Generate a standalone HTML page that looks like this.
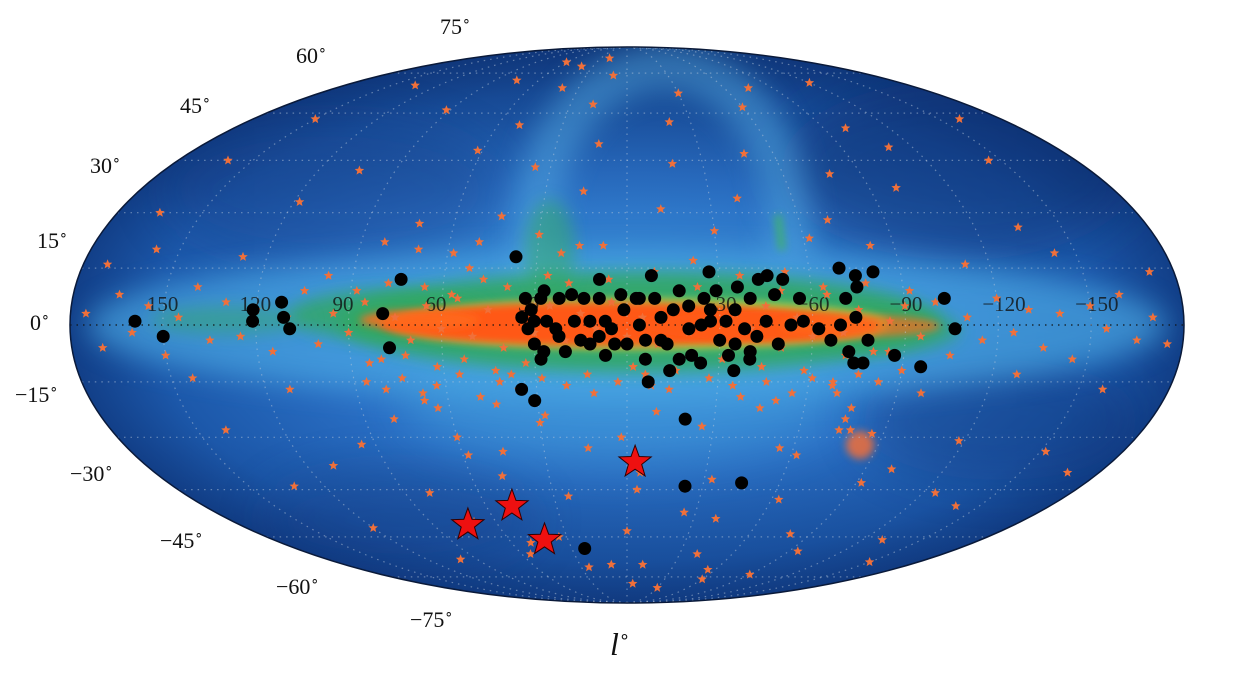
<!DOCTYPE html>
<html><head><meta charset="utf-8">
<style>
html,body{margin:0;padding:0;background:#fff;}
svg{display:block;}
text{font-family:"Liberation Serif",serif;fill:#111;}
</style></head>
<body>
<svg id="chart" width="1238" height="682" viewBox="0 0 1238 682">
<defs>
<radialGradient id="bgGrad" cx="0.5" cy="0.5" r="0.5">
<stop offset="0" stop-color="#3a90d6"/>
<stop offset="0.55" stop-color="#2a6fc4"/>
<stop offset="0.85" stop-color="#1c58aa"/>
<stop offset="1" stop-color="#123f88"/>
</radialGradient>
<linearGradient id="vGrad" x1="0" y1="0" x2="0" y2="1">
<stop offset="0" stop-color="#0c2c6a" stop-opacity="0.5"/>
<stop offset="0.3" stop-color="#0c2c6a" stop-opacity="0"/>
<stop offset="0.7" stop-color="#0c2c6a" stop-opacity="0"/>
<stop offset="1" stop-color="#0c2c6a" stop-opacity="0.3"/>
</linearGradient>
<filter id="blur8" filterUnits="userSpaceOnUse" x="0" y="0" width="1238" height="682"><feGaussianBlur stdDeviation="8"/></filter>
<filter id="blur4" filterUnits="userSpaceOnUse" x="0" y="0" width="1238" height="682"><feGaussianBlur stdDeviation="4"/></filter>
<filter id="blur14" filterUnits="userSpaceOnUse" x="0" y="0" width="1238" height="682"><feGaussianBlur stdDeviation="14"/></filter>
<filter id="blur24" filterUnits="userSpaceOnUse" x="0" y="0" width="1238" height="682"><feGaussianBlur stdDeviation="24"/></filter>
<clipPath id="clipE"><ellipse cx="627" cy="325" rx="557" ry="278"/></clipPath>
</defs>
<g clip-path="url(#clipE)">
<ellipse cx="627" cy="325" rx="557" ry="278" fill="url(#bgGrad)"/>
<rect x="60" y="40" width="1140" height="570" fill="url(#vGrad)"/>
<ellipse cx="960" cy="170" rx="180" ry="90" fill="#0d2d70" opacity="0.5" filter="url(#blur24)"/>
<ellipse cx="1000" cy="420" rx="140" ry="60" fill="#0d2d70" opacity="0.35" filter="url(#blur24)"/>
<ellipse cx="330" cy="190" rx="170" ry="70" fill="#123a82" opacity="0.35" filter="url(#blur24)"/>
<ellipse cx="400" cy="520" rx="140" ry="50" fill="#123a82" opacity="0.3" filter="url(#blur24)"/>
<ellipse cx="627" cy="325" rx="540" ry="75" fill="#4fb0e8" opacity="0.6" filter="url(#blur14)"/>
<ellipse cx="620" cy="400" rx="220" ry="60" fill="#4aa8e4" opacity="0.45" filter="url(#blur24)"/>
<path d="M545,300 C515,200 555,85 650,68 C735,58 795,140 790,260" fill="none" stroke="#5ab4e8" stroke-width="45" opacity="0.45" filter="url(#blur14)"/>
<ellipse cx="640" cy="322" rx="300" ry="50" fill="#30a862" opacity="0.9" filter="url(#blur8)"/>
<ellipse cx="390" cy="315" rx="100" ry="25" fill="#30a862" opacity="0.8" filter="url(#blur8)"/>
<ellipse cx="880" cy="330" rx="80" ry="22" fill="#30a862" opacity="0.7" filter="url(#blur8)"/>
<ellipse cx="230" cy="320" rx="80" ry="14" fill="#35a86a" opacity="0.5" filter="url(#blur8)"/>
<ellipse cx="550" cy="250" rx="25" ry="50" fill="#30a862" opacity="0.5" filter="url(#blur8)"/>
<ellipse cx="640" cy="324" rx="250" ry="26" fill="#b8d84a" opacity="0.8" filter="url(#blur4)"/>
<ellipse cx="600" cy="324" rx="220" ry="22" fill="#ff5812" filter="url(#blur4)"/>
<ellipse cx="760" cy="326" rx="120" ry="17" fill="#ff5a14" filter="url(#blur4)"/>
<ellipse cx="420" cy="320" rx="60" ry="10" fill="#ff6a1a" opacity="0.85" filter="url(#blur4)"/>
<ellipse cx="860" cy="326" rx="80" ry="11" fill="#ff6a1a" opacity="0.7" filter="url(#blur4)"/>
<path d="M778,215 L782,250" stroke="#3cb070" stroke-width="7" opacity="0.9" filter="url(#blur4)"/>
<ellipse cx="860" cy="445" rx="14" ry="14" fill="#ff7030" opacity="0.8" filter="url(#blur4)"/>
</g>
<g id="grid"></g>
<ellipse cx="627" cy="325" rx="557" ry="278" fill="none" stroke="#0a1a3a" stroke-width="1.5"/>
<g id="lonlabels"></g>
<g id="stars"></g>
<g id="dots"></g>
<g id="red"></g>
<g font-size="22">
<text x="440" y="34">75<tspan font-size="14" dy="-9">∘</tspan></text>
<text x="296" y="63">60<tspan font-size="14" dy="-9">∘</tspan></text>
<text x="180" y="113">45<tspan font-size="14" dy="-9">∘</tspan></text>
<text x="90" y="173">30<tspan font-size="14" dy="-9">∘</tspan></text>
<text x="37" y="248">15<tspan font-size="14" dy="-9">∘</tspan></text>
<text x="30" y="330">0<tspan font-size="14" dy="-9">∘</tspan></text>
<text x="15" y="402">−15<tspan font-size="14" dy="-9">∘</tspan></text>
<text x="70" y="481">−30<tspan font-size="14" dy="-9">∘</tspan></text>
<text x="160" y="548">−45<tspan font-size="14" dy="-9">∘</tspan></text>
<text x="276" y="594">−60<tspan font-size="14" dy="-9">∘</tspan></text>
<text x="410" y="627">−75<tspan font-size="14" dy="-9">∘</tspan></text>
</g>
<text x="610" y="655" font-size="32" font-style="italic">l<tspan font-size="18" dy="-13" font-style="normal">∘</tspan></text>
</svg>
<script>
const lonTicks=[150,120,90,60,30,-30,-60,-90,-120,-150];
const dotL=[159,150,121,121,112,111,109,74,79,77,37,35,31,-7,-20,-23,-45,23,-103,-106,-96,-87,-81,-75,-70,-75,-71,-74,-69,-62,-66,-72,-74,-77,-78,
33,31,34,30,28,27,32,30,28,27,23,22,18,17,15,12,9,9,7,5,2,1,0,-3,-4,-6,-8,-9,-11,-13,-15,-17,-20,-21,-24,-25,-27,-27,-29,-30,-33,-35,-36,-38,-40,-40,-43,-45,-46,-48,-49,-51,-53,-56,-57,-35,-40,-14,7,20,12,26,22,9,-20,-24,-32,-42,-4,4,14,-11,-35,-17,-27,-6];
const dotB=[1,-3,4,1,6,2,-1,12,3,-6,18,-17,-20,-15,-25,-44,-43,-64,7,-1,-11,-8,14,13,15,10,7,2,0,-1,-4,-7,-10,-10,-4,
7,4,2,1,7,9,-1,-5,-9,-7,-1,7,8,1,-4,-5,12,7,1,-1,8,4,-5,7,0,-4,13,7,2,-5,4,9,-1,-8,-10,7,14,1,9,-4,-8,4,10,-1,7,-7,12,1,13,8,-5,12,0,7,1,-12,-9,-12,-8,-7,1,1,-3,-3,5,0,1,-3,7,-5,7,-4,-5,-9,4,-9];
const starL=[175,170,165,160,155,150,145,140,135,130,125,120,115,110,105,100,95,90,85,80,75,70,65,60,55,50,45,40,35,30,25,20,15,10,5,0,-5,-10,-15,-20,-25,-30,-35,-40,-45,-50,-55,-60,-65,-70,-75,-80,-85,-90,-95,-100,-105,-110,-115,-120,-125,-130,-135,-140,-145,-150,-155,-160,-165,-170,-175,
172,158,143,128,112,98,82,68,52,38,22,8,-8,-22,-38,-52,-68,-82,-98,-112,-128,-143,-158,-172,
165,140,118,95,72,58,44,30,16,2,-12,-26,-40,-55,-70,-86,-100,-118,-135,-152,
160,132,104,80,62,48,36,24,12,-4,-18,-33,-48,-63,-78,-92,-110,-125,-145,-168,
150,120,92,70,50,34,18,0,-20,-40,-60,-80,-100,-130,-160,
135,100,75,55,40,25,10,-10,-30,-55,-75,-95,-120,-150,
110,80,60,45,28,14,-5,-25,-45,-62,-78,-100,-140,
60,40,20,-5,-30,-60,-90,50,10,-40,-75,-74,-76,
88,84,78,72,66,62,57,53,47,43,39,33,26,19,13,6,-2,-9,-16,-23,-31,-37,-44,-50,-58,-64,-71,-78,-85,-92,
86,80,74,68,63,55,49,42,36,28,20,11,3,-6,-14,-27,-35,-46,-55,-61,-68,-76,-83,-90,
70,64,58,50,44,30,16,-10,-30,-50,-62,-70];
const starB=[3,-6,8,-2,5,-8,2,10,-4,6,-3,4,-7,2,9,-5,3,-2,6,-9,2,-4,5,-1,7,-3,4,-6,2,-2,5,-4,3,-1,6,-3,2,-5,4,-2,7,-4,3,-1,5,-6,2,-3,8,-2,4,-7,1,5,-3,6,-8,2,-4,7,-2,4,-6,3,-9,5,-1,8,-4,2,-5,
16,20,-14,18,-17,13,22,-20,15,-13,19,21,-16,17,-19,14,-15,21,-18,16,-13,19,-17,14,
30,-28,33,-32,27,-35,29,-26,36,-30,31,-27,34,-33,28,-29,37,-31,26,-34,
45,-44,42,-46,48,-41,43,-47,50,-45,44,-42,47,-48,41,-43,49,-46,45,-40,
58,-57,61,-55,56,-60,63,-58,57,-54,62,-59,55,-61,58,
70,-68,72,-66,69,-71,74,-70,67,-72,69,-65,71,-69,
-38,-25,-30,-34,-24,-33,-40,-52,-22,-35,-28,-39,-50,
80,78,82,-78,-80,-76,-74,-62,-70,-66,-25,-28,-22,
9,-10,11,-8,10,-11,8,-9,12,-12,10,-10,13,11,-13,12,-11,14,-12,10,-9,13,-11,9,-12,10,-8,11,-7,9,
-15,-17,-14,-18,-16,-13,-19,-15,-17,-14,-16,-18,-15,-13,-17,-14,-16,-15,-18,-14,-16,-13,-15,-12,
20,-22,19,22,-21,24,21,-23,25,-20,23,-18];
const redL=[-3,49,74,42];
const redB=[-37,-50,-56,-61];

const CX=627,CY=325,A=557,B=278;
function proj(l,b){
  const phi=b*Math.PI/180;
  let t=phi;
  if(Math.abs(Math.abs(phi)-Math.PI/2)>1e-6){for(let i=0;i<30;i++){const f=2*t+Math.sin(2*t)-Math.PI*Math.sin(phi);const d=2+2*Math.cos(2*t);t-=f/d;}}
  return [CX-A*(l/180)*Math.cos(t), CY-B*Math.sin(t)];
}
function starPath(x,y,R,r){
  let s="";
  for(let i=0;i<10;i++){const a=-Math.PI/2+i*Math.PI/5;const rr=i%2?r:R;s+=(i?"L":"M")+(x+rr*Math.cos(a)).toFixed(1)+","+(y+rr*Math.sin(a)).toFixed(1);}
  return s+"Z";
}
const NS="http://www.w3.org/2000/svg";
const grid=document.getElementById('grid');
for(let b=-75;b<=75;b+=15){
  let d="";for(let l=180;l>=-180;l-=3){const p=proj(l,b);d+=(l===180?"M":"L")+p[0].toFixed(1)+","+p[1].toFixed(1);}
  const el=document.createElementNS(NS,'path');el.setAttribute('d',d);
  el.setAttribute('fill','none');el.setAttribute('stroke',b===0?'#111':'#b8c8dc');el.setAttribute('stroke-width',b===0?'1.4':'1.2');el.setAttribute('stroke-dasharray','1.5 5');el.setAttribute('opacity',b===0?'0.8':'0.5');
  
  
  grid.appendChild(el);
}
for(let l=-150;l<=150;l+=30){
  let d="";for(let b=-90;b<=90;b+=2){const p=proj(l,b);d+=(b===-90?"M":"L")+p[0].toFixed(1)+","+p[1].toFixed(1);}
  const el=document.createElementNS(NS,'path');el.setAttribute('d',d);
  el.setAttribute('fill','none');el.setAttribute('stroke','#b8c8dc');el.setAttribute('stroke-width','1.2');el.setAttribute('stroke-dasharray','1.5 5');el.setAttribute('opacity','0.5');
  
  
  grid.appendChild(el);
}
const ll=document.getElementById('lonlabels');
lonTicks.forEach((l,i)=>{
  const p=proj(l,0);
  const t=document.createElementNS(NS,'text');
  t.setAttribute('x',p[0]-16);t.setAttribute('y',p[1]-14);t.setAttribute('font-size','21');t.setAttribute('fill','#1a1a1a');t.setAttribute('opacity','0.8');
  t.textContent=String(l).replace('-','−');
  
  
  ll.appendChild(t);
});
const sg=document.getElementById('stars');
starL.forEach((l,i)=>{
  const p=proj(l,starB[i]);
  const el=document.createElementNS(NS,'path');
  el.setAttribute('d',starPath(p[0],p[1],5,2.2));el.setAttribute('fill','#f0703a');
  
  
  sg.appendChild(el);
});
const dg=document.getElementById('dots');
dotL.forEach((l,i)=>{
  const p=proj(l,dotB[i]);
  const el=document.createElementNS(NS,'circle');
  el.setAttribute('cx',p[0].toFixed(1));el.setAttribute('cy',p[1].toFixed(1));el.setAttribute('r','6.5');el.setAttribute('fill','#000');
  
  
  dg.appendChild(el);
});
const rg=document.getElementById('red');
redL.forEach((l,i)=>{
  const p=proj(l,redB[i]);
  const el=document.createElementNS(NS,'path');
  el.setAttribute('d',starPath(p[0],p[1],17,7));el.setAttribute('fill','#ee1010');el.setAttribute('stroke','#300');el.setAttribute('stroke-width','1');
  
  
  rg.appendChild(el);
});
</script>
</body></html>
